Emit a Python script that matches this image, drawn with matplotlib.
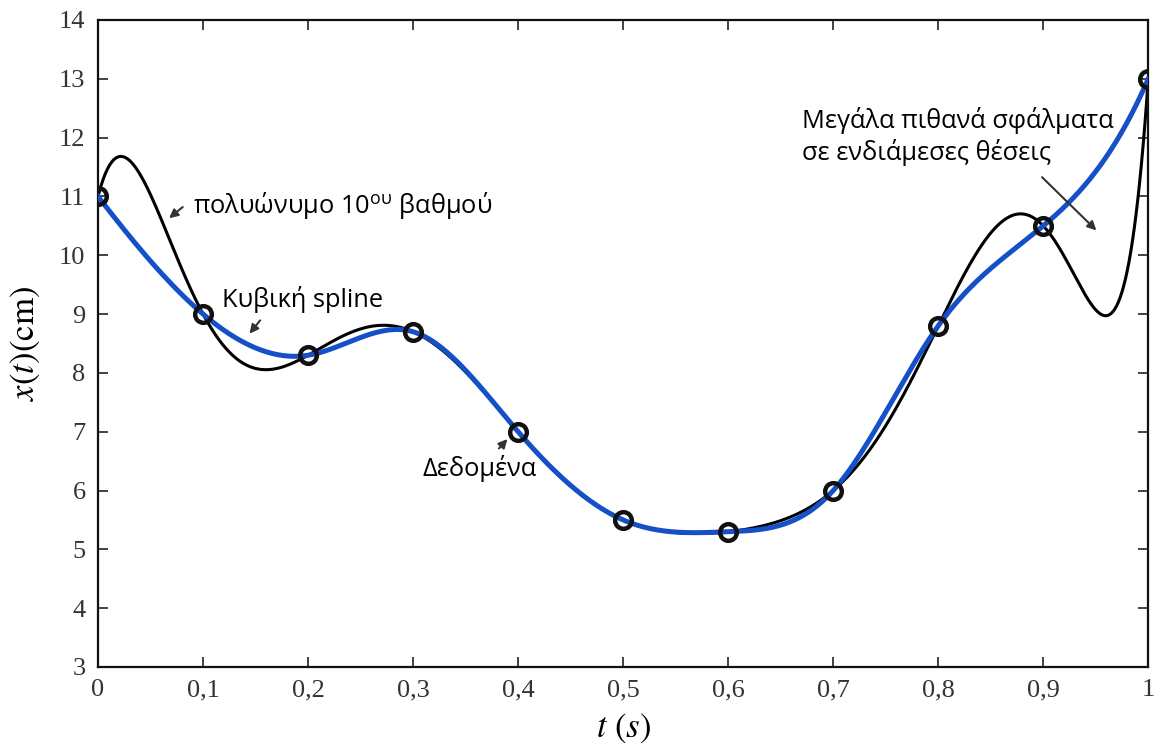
import numpy as np
import matplotlib
matplotlib.use("Agg")
import matplotlib.pyplot as plt

# data points
t_data = [0.0, 0.1, 0.2, 0.3, 0.4, 0.5, 0.6, 0.7, 0.8, 0.9, 1.0]
x_data = [11.0, 9.0, 8.3, 8.7, 7.0, 5.5, 5.3, 6.0, 8.8, 10.5, 13.0]

xtick_vals = [0, 0.1, 0.2, 0.3, 0.4, 0.5, 0.6, 0.7, 0.8, 0.9, 1.0]
xtick_labels = ["0", "0,1", "0,2", "0,3", "0,4", "0,5", "0,6", "0,7", "0,8", "0,9", "1"]
ytick_vals = [3, 4, 5, 6, 7, 8, 9, 10, 11, 12, 13, 14]

t = np.array(t_data)
y = np.array(x_data)
n = len(t) - 1
h = t[1] - t[0]

# 10th degree interpolating polynomial
coef = np.polyfit(t, y, 10)
tt = np.linspace(0, 1, 600)
poly_vals = np.polyval(coef, tt)

# not-a-knot cubic spline (second derivative form)
A = np.zeros((n + 1, n + 1))
b = np.zeros(n + 1)
A[0, 0:3] = [1, -2, 1]
A[n, n - 2:n + 1] = [1, -2, 1]
for i in range(1, n):
    A[i, i - 1:i + 2] = [1, 4, 1]
    b[i] = 6.0 / h**2 * (y[i + 1] - 2 * y[i] + y[i - 1])
M = np.linalg.solve(A, b)
idx = np.clip(((tt - t[0]) / h).astype(int), 0, n - 1)
a0 = t[idx + 1] - tt
a1 = tt - t[idx]
spline_vals = (M[idx] * a0**3 / (6 * h) + M[idx + 1] * a1**3 / (6 * h)
               + (y[idx] / h - M[idx] * h / 6) * a0
               + (y[idx + 1] / h - M[idx + 1] * h / 6) * a1)

plt.rcParams['mathtext.fontset'] = 'stix'

fig = plt.figure(figsize=(11.56, 7.49), dpi=100)
ax = fig.add_axes([0.0848, 0.1095, 0.9085, 0.8638])

ax.plot(tt, poly_vals, color='black', lw=2.2, zorder=2)
ax.plot(tt, spline_vals, color='#1550c8', lw=3.6, zorder=3)
ax.plot(t, y, 'o', mfc='none', mec='#111111', mew=3.2, ms=12, zorder=4)

ax.set_xlim(0, 1)
ax.set_ylim(3, 14)
ax.set_xticks(xtick_vals)
ax.set_xticklabels(xtick_labels)
ax.set_yticks(ytick_vals)
ax.tick_params(direction='in', top=True, right=True, length=7, width=1.2,
               labelsize=19, colors='#222222', pad=9)
for lab in ax.get_xticklabels() + ax.get_yticklabels():
    lab.set_family('Liberation Serif')
    lab.set_color('#333333')
for sp in ax.spines.values():
    sp.set_linewidth(1.6)
    sp.set_color('#111111')

ax.set_xlabel(r'$t\ (s)$', fontsize=25, labelpad=7)
ax.set_ylabel(r'$x(t)(\mathrm{cm})$', fontsize=25, labelpad=12)

fam = 'Open Sans'
fs = 18.3
ax.text(0.0903, 10.84, r'πολυώνυμο 10$^{\mathregular{ου}}$ βαθμού', fontsize=fs,
        family=fam, va='center', ha='left')
ax.text(0.118, 9.24, 'Κυβική spline', fontsize=fs, family=fam, va='center', ha='left')
ax.text(0.309, 6.38, 'Δεδομένα', fontsize=fs, family=fam, va='center', ha='left')
ax.text(0.670, 12.02, 'Μεγάλα πιθανά σφάλματα\nσε ενδιάμεσες θέσεις', fontsize=fs,
        family=fam, va='center', ha='left', linespacing=1.25)

arrow_kw = dict(arrowstyle='-|>', color='#333333', lw=1.5, mutation_scale=13)
ax.annotate('', xy=(0.0656, 10.60), xytext=(0.0827, 10.85), arrowprops=arrow_kw)
ax.annotate('', xy=(0.1426, 8.63), xytext=(0.156, 8.93), arrowprops=arrow_kw)
ax.annotate('', xy=(0.3916, 6.91), xytext=(0.380, 6.68), arrowprops=arrow_kw)
ax.annotate('', xy=(0.9525, 10.39), xytext=(0.897, 11.36), arrowprops=arrow_kw)

fig.savefig('out.png', dpi=100)
